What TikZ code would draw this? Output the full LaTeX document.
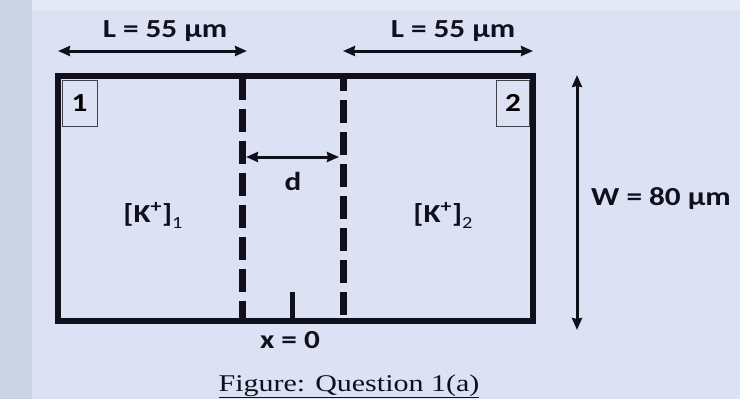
\documentclass[tikz,border=0pt]{standalone}
\usepackage{fontspec}
\setmainfont{Liberation Serif}
\newfontfamily\labfont{Carlito}
\usepackage{graphicx}
\usetikzlibrary{arrows.meta}
\definecolor{bg}{HTML}{DDE1F4}
\definecolor{strip}{HTML}{CBD3E4}
\definecolor{topband}{HTML}{E5E8F6}
\definecolor{ink}{HTML}{10101C}
\newcommand{\lab}[1]{\scalebox{1.2}[1]{\labfont\bfseries\fontsize{26}{30}\selectfont #1}}
\newcommand{\capt}[1]{\scalebox{1.25}[1]{\fontsize{24}{28}\selectfont #1}}
\newcommand{\ksub}[1]{\raisebox{-6pt}{\fontsize{17}{20}\selectfont\mdseries #1}}
\begin{document}
\begin{tikzpicture}[x=1pt,y=-1pt,
  wall/.style={line width=6.5pt, draw=ink, line join=miter},
  membrane/.style={line width=7pt, draw=ink, dash pattern=on 23pt off 9pt},
  dim/.style={line width=3pt, draw=ink, {Stealth[length=12pt,width=10pt,inset=1pt]}-{Stealth[length=12pt,width=10pt,inset=1pt]}},
  numbox/.style={draw=ink!80, line width=0.9pt, inner sep=0pt, minimum width=35pt, minimum height=46pt, anchor=north west},
  txt/.style={anchor=base, inner sep=0pt, text=ink}]
\fill[bg] (0,0) rectangle (740,399);
\fill[strip] (0,0) rectangle (32,399);
\fill[topband] (32,0) rectangle (740,10);
\useasboundingbox (0,0) rectangle (740,399);
% chamber
\draw[wall] (58,76) rectangle (533,321);
% membranes
\draw[membrane] (242,77) -- (242,318);
\draw[membrane, dash phase=9pt] (343,77) -- (343,318);
% x = 0 tick
\coordinate (tickTop) at (292,292);
\coordinate (tickBot) at (292,318);
\draw[ink, line width=5pt] (tickTop) -- (tickBot);
% compartment number boxes
\node[numbox] (n1) at (61.5,79.5) {\lab{1}};
\node[numbox, minimum width=33pt, anchor=north east] (n2) at (530,79.5) {\lab{2}};
% top dimension arrows
\coordinate (la) at (58,51); \coordinate (lb) at (247,51);
\coordinate (ra) at (343,51); \coordinate (rb) at (533,51);
\draw[dim] (la) -- (lb);
\draw[dim] (ra) -- (rb);
\node[txt] (L1) at (165,37) {\lab{L = 55 μm}};
\node[txt] (L2) at (453,37) {\lab{L = 55 μm}};
% width arrow
\coordinate (wa) at (577,75); \coordinate (wb) at (577,330);
\draw[dim] (wa) -- (wb);
\node[txt] (W) at (661,205) {\lab{W = 80 μm}};
% d arrow
\coordinate (da) at (246,157); \coordinate (db) at (339,157);
\draw[dim] (da) -- (db);
\node[txt] (d) at (293,190) {\lab{d}};
% concentrations
\node[txt] (K1) at (153,222) {\lab{[K\textsuperscript{+}]\ksub{1}}};
\node[txt] (K2) at (443,222) {\lab{[K\textsuperscript{+}]\ksub{2}}};
% x = 0
\node[txt] (x0) at (290,348) {\lab{x = 0}};
% caption
\node[txt] (cap) at (349,391) {\capt{\underline{Figure: Question 1(a)}}};
\end{tikzpicture}
\end{document}
